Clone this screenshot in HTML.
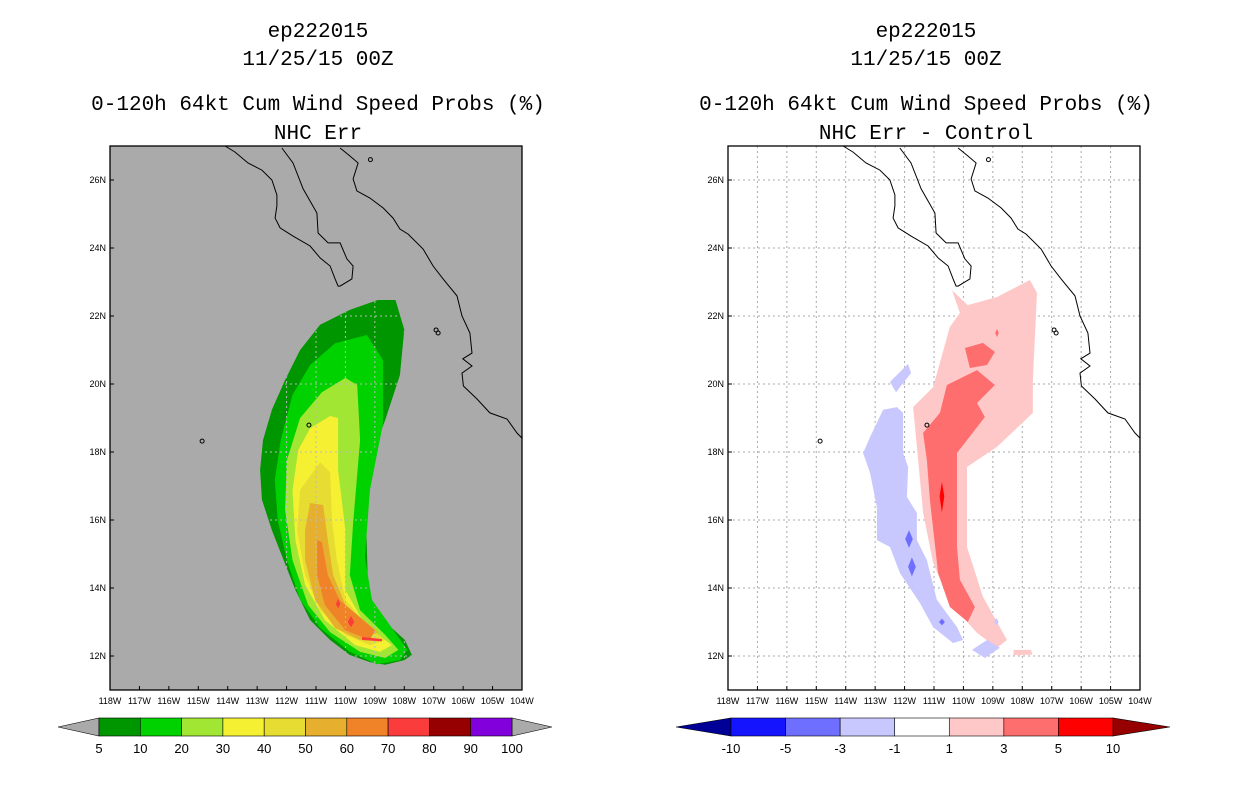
<!DOCTYPE html>
<html><head><meta charset="utf-8"><style>
body{margin:0;background:#fff;width:1236px;height:800px;overflow:hidden;font-family:"Liberation Sans",sans-serif}
svg{display:block}
.t{font-family:"Liberation Mono","Liberation Sans",monospace;font-size:21px;fill:#000;text-anchor:middle}
.tk{font-family:"Liberation Sans",sans-serif;font-size:9px;fill:#000}
.cb{font-family:"Liberation Sans",sans-serif;font-size:13px;fill:#000;text-anchor:middle}
</style></head><body>
<svg id="fig" width="1236" height="800">
<g>
<text class="t" x="318" y="37">ep222015</text>
<text class="t" x="318" y="65">11/25/15 00Z</text>
<text class="t" x="318" y="110">0-120h 64kt Cum Wind Speed Probs (%)</text>
<text class="t" x="318" y="139">NHC Err</text>
</g>
<g>
<text class="t" x="926" y="37">ep222015</text>
<text class="t" x="926" y="65">11/25/15 00Z</text>
<text class="t" x="926" y="110">0-120h 64kt Cum Wind Speed Probs (%)</text>
<text class="t" x="926" y="139">NHC Err - Control</text>
</g>
<g id="L"></g>
<g id="R"></g>
<g id="CB"></g>
</svg>
<script>
const NS="http://www.w3.org/2000/svg";
// axis extents
const lonMin=-118, lonMax=-104, latMin=11, latMax=27;
const lonTicks=[-118,-117,-116,-115,-114,-113,-112,-111,-110,-109,-108,-107,-106,-105,-104];
const latTicks=[12,14,16,18,20,22,24,26];
// probability contour levels (left), outer to inner
const probLevels=[5,10,20,30,40,50,60,70];
const probColors=["#009600","#00d200","#a0e632","#f5f032","#e6dc32","#e6af2d","#f08228","#fa3c3c"];
const prob5=[[-108.9,22.47],[-108.3,22.47],[-108.0,21.6],[-108.15,20.26],[-108.65,18.94],[-109.17,17.76],[-109.3,16.0],[-109.23,13.94],[-108.83,13.06],[-108.42,12.82],[-107.98,12.47],[-107.74,12.03],[-108.0,11.88],[-108.65,11.74],[-109.17,11.82],[-109.85,12.03],[-110.52,12.47],[-111.2,13.06],[-111.7,13.94],[-112.1,14.82],[-112.5,15.7],[-112.84,16.6],[-112.9,17.47],[-112.8,18.35],[-112.5,19.24],[-112.05,20.12],[-111.54,21.0],[-110.86,21.74],[-109.85,22.18]];
const prob10=[[-109.27,21.44],[-108.72,20.7],[-108.72,18.85],[-109.17,16.88],[-109.34,14.91],[-109.1,13.65],[-108.32,12.7],[-107.9,12.18],[-108.15,11.88],[-108.93,11.76],[-109.85,12.12],[-110.86,12.82],[-111.54,13.65],[-111.99,14.82],[-112.3,16.0],[-112.4,17.18],[-112.2,18.35],[-111.8,19.68],[-111.2,20.56],[-110.35,21.2]];
const prob20=[[-110.0,20.18],[-109.6,19.97],[-109.5,18.35],[-109.74,15.9],[-109.85,14.38],[-109.5,13.35],[-108.65,12.62],[-108.2,12.18],[-108.65,11.94],[-109.5,12.12],[-110.52,12.7],[-111.27,13.5],[-111.8,14.82],[-112.05,16.3],[-111.99,17.76],[-111.54,19.0],[-110.8,19.76]];
const prob30=[[-110.52,19.06],[-110.25,19.0],[-110.25,17.47],[-110.0,15.7],[-110.0,13.94],[-109.33,12.91],[-108.42,12.32],[-108.83,12.12],[-109.67,12.32],[-110.7,13.06],[-111.37,14.09],[-111.7,15.41],[-111.8,16.88],[-111.6,18.06],[-111.2,18.7]];
const prob40=[[-110.86,17.7],[-110.52,17.41],[-110.46,16.0],[-110.29,14.82],[-110.0,13.65],[-109.17,12.82],[-108.65,12.47],[-109.17,12.32],[-110.0,12.62],[-110.86,13.35],[-111.37,14.38],[-111.64,15.7],[-111.54,16.88]];
const prob50=[[-111.2,16.5],[-110.76,16.44],[-110.6,15.41],[-110.42,14.38],[-110.0,13.5],[-108.88,12.7],[-109.5,12.47],[-110.35,12.82],[-111.03,13.65],[-111.37,14.82],[-111.37,15.7]];
const prob60=[[-110.96,15.41],[-110.8,15.35],[-110.6,14.38],[-110.2,13.65],[-109.0,12.76],[-109.17,12.47],[-110.0,12.76],[-110.7,13.5],[-110.96,14.38]];
const prob70a=[[-110.25,13.68],[-110.18,13.53],[-110.25,13.4],[-110.32,13.53]];
const prob70b=[[-109.81,13.18],[-109.7,13.0],[-109.81,12.85],[-109.92,13.0]];
const prob70c=[[-109.44,12.56],[-108.76,12.5],[-108.76,12.43],[-109.44,12.47]];
// difference (right) polygons
const diffPos1=[[-107.74,23.06],[-107.5,22.68],[-107.64,20.12],[-107.64,19.15],[-108.86,18.15],[-109.88,17.56],[-109.88,15.21],[-109.34,13.74],[-108.52,12.47],[-108.86,12.24],[-109.54,12.68],[-110.46,13.56],[-111.03,14.74],[-111.37,16.21],[-111.58,18.15],[-111.71,19.32],[-111.03,19.91],[-110.46,21.68],[-110.12,22.09],[-110.39,22.76],[-109.85,22.32],[-108.86,22.56]];
const diffPos1b=[[-108.3,12.18],[-107.7,12.18],[-107.66,12.04],[-108.3,12.02]];
const diffPos3=[[-110.56,19.97],[-109.54,20.41],[-108.93,19.97],[-109.54,19.44],[-109.27,19.03],[-109.88,18.35],[-110.22,17.97],[-110.22,15.21],[-110.12,14.24],[-109.61,13.44],[-109.85,13.0],[-110.46,13.44],[-110.86,14.44],[-111.14,16.59],[-111.24,17.76],[-111.37,18.56],[-110.8,19.15]];
const diffPos3b=[[-109.95,21.06],[-109.34,21.21],[-108.93,20.94],[-109.2,20.56],[-109.78,20.47]];
const diffPos3c=[[-108.86,21.62],[-108.8,21.5],[-108.86,21.38],[-108.92,21.5]];
const diffPos5=[[-110.73,17.12],[-110.65,16.7],[-110.73,16.22],[-110.81,16.7]];
const diffNeg1=[[-112.26,19.32],[-112.05,19.15],[-112.05,17.97],[-111.88,17.56],[-111.92,16.68],[-111.58,16.21],[-111.58,15.41],[-111.24,14.82],[-110.9,13.65],[-110.22,12.85],[-110.01,12.47],[-110.35,12.38],[-111.03,12.85],[-111.48,13.56],[-112.16,14.44],[-112.5,15.21],[-112.94,15.41],[-112.94,16.38],[-113.17,17.38],[-113.41,17.97],[-113.17,18.44],[-112.73,19.24]];
const diffNeg1b=[[-112.5,20.06],[-111.88,20.59],[-111.78,20.32],[-112.29,19.76]];
const diffNeg1c=[[-109.71,12.18],[-109.2,12.47],[-108.76,12.24],[-109.27,11.94]];
const diffNeg1d=[[-108.88,13.12],[-108.8,13.0],[-108.88,12.9],[-108.96,13.0]];
const diffNeg3a=[[-111.85,15.7],[-111.72,15.44],[-111.85,15.18],[-111.98,15.44]];
const diffNeg3b=[[-111.75,14.9],[-111.62,14.62],[-111.75,14.34],[-111.88,14.62]];
const diffNeg3c=[[-110.73,13.1],[-110.63,13.0],[-110.73,12.9],[-110.83,13.0]];
// coastlines
const bajaCoast=[[-114.09,27.0],[-113.75,26.82],[-113.31,26.5],[-112.84,26.29],[-112.5,26.0],[-112.33,25.56],[-112.33,25.24],[-112.39,24.88],[-112.22,24.59],[-111.78,24.35],[-111.2,24.06],[-110.86,23.71],[-110.52,23.47],[-110.35,23.09],[-110.25,22.88],[-110.18,22.88],[-109.78,23.09],[-109.74,23.47],[-109.95,23.68],[-110.18,24.15],[-110.59,24.15],[-110.93,24.44],[-110.97,25.03],[-111.44,25.74],[-111.78,26.5],[-112.16,26.94]];
const mainCoast=[[-110.18,26.94],[-109.85,26.71],[-109.57,26.5],[-109.74,26.03],[-109.61,25.68],[-109.17,25.47],[-108.72,25.18],[-108.38,24.88],[-108.15,24.56],[-107.87,24.41],[-107.36,23.97],[-107.02,23.47],[-106.68,23.09],[-106.21,22.59],[-106.04,22.0],[-105.77,21.5],[-105.7,20.91],[-106.01,20.74],[-105.7,20.53],[-106.04,20.32],[-105.99,19.94],[-105.53,19.56],[-105.09,19.15],[-104.51,18.97],[-104.17,18.56],[-104.0,18.41]];
const islands=[[-111.24,18.79],[-106.92,21.59],[-106.85,21.5],[-114.87,18.32],[-109.15,26.6]];
// colorbars
const probBarLabels=["5","10","20","30","40","50","60","70","80","90","100"];
const probBarColors=["#009600","#00d200","#a0e632","#f5f032","#e6dc32","#e6af2d","#f08228","#fa3c3c","#960000","#8200dc"];
const diffBarLabels=["-10","-5","-3","-1","1","3","5","10"];
const diffBarColors=["#1414ff","#6e6eff","#c8c8ff","#ffffff","#ffc8c8","#ff6e6e","#ff0000"];

const PW=412, PH=544, PY=146;
function mk(t,a,p){const e=document.createElementNS(NS,t);for(const k in a)e.setAttribute(k,a[k]);p.appendChild(e);return e;}
function panel(gid,x0){
  const g=document.getElementById(gid);
  const X=lon=>x0+(lon-lonMin)/(lonMax-lonMin)*PW;
  const Y=lat=>PY+(latMax-lat)/(latMax-latMin)*PH;
  const P=arr=>arr.map((p,i)=>(i?'L':'M')+X(p[0]).toFixed(1)+','+Y(p[1]).toFixed(1)).join('')+'Z';
  const L=arr=>arr.map((p,i)=>(i?'L':'M')+X(p[0]).toFixed(1)+','+Y(p[1]).toFixed(1)).join('');
  return {g,X,Y,P,L};
}
function frameBits(o,x0,bg){
  const {g}=o;
  const r=mk('rect',{x:x0,y:PY,width:PW,height:PH,fill:bg},g);
  
}
function grid(o,x0,color){
  const {g,X,Y}=o;
  const gg=mk('g',{stroke:color,'stroke-width':1,'stroke-dasharray':'2,3'},g);
  
  lonTicks.slice(1,-1).forEach(l=>mk('line',{x1:X(l),x2:X(l),y1:PY,y2:PY+PH},gg));
  latTicks.forEach(l=>mk('line',{x1:x0,x2:x0+PW,y1:Y(l),y2:Y(l)},gg));
}
function coast(o){
  const {g,X,Y,L}=o;
  const c=mk('g',{stroke:'#000',fill:'none','stroke-width':1},g);
  
  mk('path',{d:L(bajaCoast)},c);mk('path',{d:L(mainCoast)},c);
  islands.forEach(p=>mk('circle',{cx:X(p[0]),cy:Y(p[1]),r:2},c));
}
function axes(o,x0){
  const {g,X,Y}=o;
  const f=mk('rect',{x:x0,y:PY,width:PW,height:PH,fill:'none',stroke:'#000','stroke-width':1.3},g);
  
  latTicks.forEach(l=>{const t=mk('text',{class:'tk',x:x0-4,y:Y(l)+3,'text-anchor':'end'},g);t.textContent=l+'N';
    
    mk('line',{x1:x0,x2:x0+4,y1:Y(l),y2:Y(l),stroke:'#000'},g);});
  lonTicks.forEach(l=>{const t=mk('text',{class:'tk',x:X(l),y:PY+PH+14,'text-anchor':'middle'},g);t.textContent=(-l)+'W';
    
    mk('line',{x1:X(l),x2:X(l),y1:PY+PH,y2:PY+PH-4,stroke:'#000'},g);});
}
// left panel
const A=panel('L',110);
frameBits(A,110,'#aaaaaa');
const probPolys=[prob5,prob10,prob20,prob30,prob40,prob50,prob60];
probPolys.forEach((poly,i)=>{const p=mk('path',{d:A.P(poly),fill:probColors[i]},A.g);
  });
[prob70a,prob70b,prob70c].forEach(poly=>{const p=mk('path',{d:A.P(poly),fill:probColors[7]},A.g);
  });
const clip=mk('clipPath',{id:'plumeclip'},A.g);mk('path',{d:A.P(prob5)},clip);
const gwrap=mk('g',{'clip-path':'url(#plumeclip)'},A.g);
grid({g:gwrap,X:A.X,Y:A.Y},110,'#bbbbbb');
coast(A);axes(A,110);
// right panel
const B=panel('R',728);
frameBits(B,728,'#ffffff');
grid(B,728,'#aaaaaa');
const diffLayers=[[diffPos1,'#ffc8c8','diff-1-3'],[diffPos1b,'#ffc8c8','diff-1-3'],[diffNeg1,'#c8c8ff','diff-neg1-neg3'],[diffNeg1b,'#c8c8ff','diff-neg1-neg3'],[diffNeg1c,'#c8c8ff','diff-neg1-neg3'],[diffNeg1d,'#c8c8ff','diff-neg1-neg3'],[diffPos3,'#ff6e6e','diff-3-5'],[diffPos3b,'#ff6e6e','diff-3-5'],[diffPos3c,'#ff6e6e','diff-3-5'],[diffPos5,'#ff0000','diff-5-10'],[diffNeg3a,'#6e6eff','diff-neg3-neg5'],[diffNeg3b,'#6e6eff','diff-neg3-neg5'],[diffNeg3c,'#6e6eff','diff-neg3-neg5']];
diffLayers.forEach(d=>{const p=mk('path',{d:B.P(d[0]),fill:d[1]},B.g);
  });
coast(B);axes(B,728);
// colorbars
const CB=document.getElementById('CB');
function bar(x0,x1,tri0,tri1,labels,colors,c0,c1,name){
  const g=mk('g',{},CB);
  const y0=718,y1=736,ym=727,n=colors.length,w=(x1-x0)/n;
  mk('path',{d:`M${tri0},${ym}L${x0},${y0}L${x0},${y1}Z`,fill:c0,stroke:'#000','stroke-width':0.6},g);
  mk('path',{d:`M${tri1},${ym}L${x1},${y0}L${x1},${y1}Z`,fill:c1,stroke:'#000','stroke-width':0.6},g);
  colors.forEach((c,i)=>{const r=mk('rect',{x:x0+i*w,y:y0,width:w,height:y1-y0,fill:c,stroke:'#000','stroke-width':0.6},g);
    });
  labels.forEach((l,i)=>{const t=mk('text',{class:'cb',x:x0+i*w,y:753},g);t.textContent=l;
    });
}
bar(99,512,58,552,probBarLabels,probBarColors,'#aaaaaa','#aaaaaa','prob-colorbar');
bar(731,1113,676,1170,diffBarLabels,diffBarColors,'#000096','#960000','diff-colorbar');
</script>
</body></html>
